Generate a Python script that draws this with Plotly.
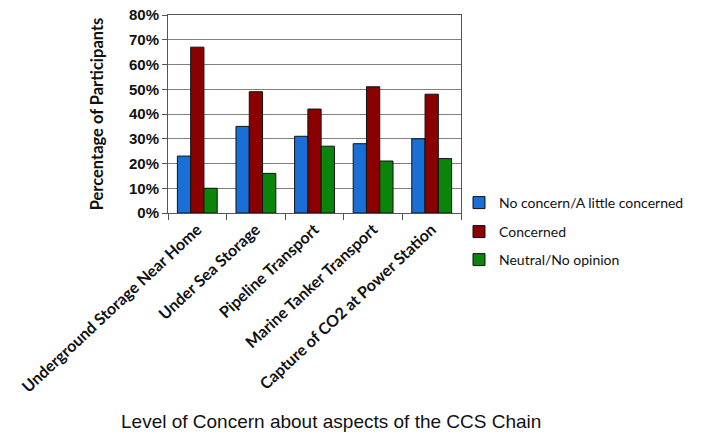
import plotly.graph_objects as go

categories = ["Underground Storage Near Home", "Under Sea Storage", "Pipeline Transport",
              "Marine Tanker Transport", "Capture of CO2 at Power Station"]
no_concern = [23, 35, 31, 28, 30]
concerned = [67, 49, 42, 51, 48]
neutral = [10, 16, 27, 21, 22]
series_names = ["No concern/A little concerned", "Concerned", "Neutral/No opinion"]
colors = ["#1a6fd6", "#8a0000", "#0a840a"]

W, H = 703, 439
L, R, T, B = 168, 461, 15, 213

fig = go.Figure()
for i, (name, vals, col) in enumerate(zip(series_names, [no_concern, concerned, neutral], colors)):
    fig.add_trace(go.Bar(
        x=categories, y=vals, name=name,
        marker=dict(color=col, line=dict(color="#111111", width=1)),
        legend="legend" if i == 0 else f"legend{i+1}",
    ))

leg_common = dict(x=(459 - L) / (R - L), xanchor="left", yanchor="middle",
                  font=dict(family="Lato", size=14, color="#111111"),
                  bgcolor="rgba(0,0,0,0)", itemwidth=30)
legend_y = [203, 232, 260]
def ly(py):
    return (B - py) / (B - T)

fig.update_layout(
    width=W, height=H,
    margin=dict(l=L, r=W - R, t=T, b=H - B, pad=0, autoexpand=False),
    paper_bgcolor="white", plot_bgcolor="white",
    barmode="group", bargap=0.32, bargroupgap=0,
    showlegend=True,
    legend=dict(y=ly(legend_y[0]), **leg_common),
    legend2=dict(y=ly(legend_y[1]), **leg_common),
    legend3=dict(y=ly(legend_y[2]), **leg_common),
    xaxis=dict(
        automargin=False,
        showline=True, linecolor="#555555", linewidth=1, mirror=True,
        ticks="outside", tickson="boundaries", ticklen=6, tickcolor="#555555",
        tickangle=-43,
        tickfont=dict(family="Lato", size=16, color="#111111", weight="bold"),
        showgrid=False,
    ),
    yaxis=dict(
        automargin=False,
        range=[0, 80], dtick=10, ticksuffix="%",
        ticklabeloverflow="allow",
        showline=True, linecolor="#555555", linewidth=1, mirror=True,
        ticks="outside", ticklen=5, tickcolor="#555555",
        showgrid=True, gridcolor="#808080", gridwidth=1,
        tickfont=dict(family="Liberation Sans", size=15, color="#111111", weight="bold"),
        title=dict(text="Percentage of Participants", standoff=21,
                   font=dict(family="Lato", size=16.5, color="#111111", weight="bold")),
        zeroline=False,
    ),
)

fig.add_annotation(
    text="Level of Concern about aspects of the CCS Chain",
    xref="paper", yref="paper",
    x=(331 - L) / (R - L), y=(B - 422) / (B - T),
    xanchor="center", yanchor="middle", showarrow=False,
    font=dict(family="Liberation Sans", size=19, color="#111111"),
)

fig.write_html("out.html", config={"displayModeBar": False},
               post_script="document.body.style.margin='0';document.body.style.overflow='hidden';")
